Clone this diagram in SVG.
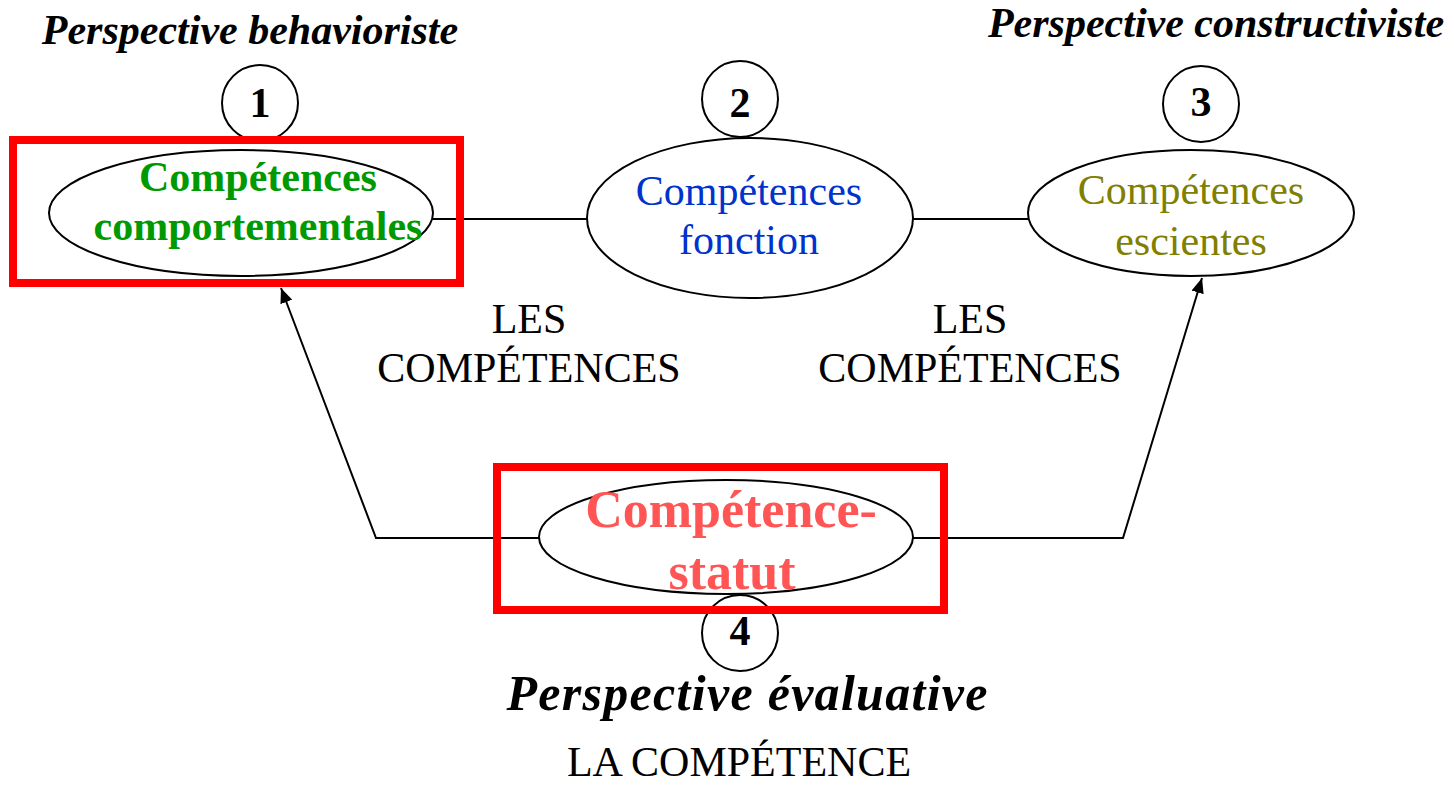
<svg xmlns="http://www.w3.org/2000/svg" width="1454" height="786" viewBox="0 0 1454 786">
<style>
.ell{fill:none;stroke:#000;stroke-width:2}
.num{fill:#fff;stroke:#000;stroke-width:2}
.box{fill:none;stroke:#ff0000;stroke-width:8}
.conn{fill:none;stroke:#000;stroke-width:2}
text{font-family:"Liberation Serif","Times New Roman",serif;text-anchor:middle}
.t{font-size:42px}
.b{font-weight:bold}
.bi{font-weight:bold;font-style:italic}
</style>
<defs>
<marker id="arr" viewBox="0 0 12 10" refX="12" refY="5" markerWidth="15" markerHeight="13" markerUnits="userSpaceOnUse" orient="auto">
<path d="M0,0 L12,5 L0,10 z" fill="#000"/>
</marker>
</defs>
<rect width="1454" height="786" fill="#fff"/>
<g id="connectors">
<line class="conn" x1="433" y1="219" x2="587" y2="219"/>
<line class="conn" x1="913" y1="219" x2="1028" y2="219"/>
<polyline class="conn" points="539,538 376,538 281,288" marker-end="url(#arr)"/>
<polyline class="conn" points="913,538 1123,538 1202,278" marker-end="url(#arr)"/>
</g>
<g id="labels">
<text class="t bi" x="250" y="44">Perspective behavioriste</text>
<text class="t bi" x="1216" y="37">Perspective constructiviste</text>
<text class="t" x="529" y="333">LES</text>
<text class="t" x="529" y="382">COMPÉTENCES</text>
<text class="t" x="970" y="333">LES</text>
<text class="t" x="970" y="382">COMPÉTENCES</text>
<text class="bi" style="font-size:50px" x="747" y="710" textLength="481" lengthAdjust="spacing">Perspective évaluative</text>
<text class="t" x="739" y="776">LA COMPÉTENCE</text>
</g>
<g id="n1">
<circle class="num" cx="260" cy="103" r="38"/>
<text class="t b" x="260" y="117">1</text>
<ellipse class="ell" cx="241" cy="213" rx="192" ry="63"/>
<text class="t b" x="258" y="191" fill="#009900">Compétences</text>
<text class="t b" x="258" y="240" fill="#009900">comportementales</text>
<rect class="box" x="13" y="140" width="447" height="143"/>
</g>
<g id="n2">
<circle class="num" cx="740" cy="99" r="38"/>
<text class="t b" x="740" y="117">2</text>
<ellipse class="ell" cx="750" cy="218" rx="163" ry="80"/>
<text class="t" x="749" y="205" fill="#0033cc">Compétences</text>
<text class="t" x="749" y="254" fill="#0033cc">fonction</text>
</g>
<g id="n3">
<circle class="num" cx="1201" cy="104" r="38"/>
<text class="t b" x="1201" y="116">3</text>
<ellipse class="ell" cx="1191" cy="213" rx="163" ry="63"/>
<text class="t" x="1191" y="204" fill="#808000">Compétences</text>
<text class="t" x="1191" y="255" fill="#808000">escientes</text>
</g>
<g id="n4">
<circle class="num" cx="740" cy="633" r="38"/>
<text class="t b" x="740" y="645">4</text>
<ellipse class="ell" cx="726" cy="537" rx="187" ry="57"/>
<text class="b" style="font-size:52px" x="731" y="527" fill="#ff5555">Compétence-</text>
<text class="b" style="font-size:52px" x="732" y="589" fill="#ff5555">statut</text>
<rect class="box" x="497" y="467" width="447" height="143"/>
</g>
</svg>
